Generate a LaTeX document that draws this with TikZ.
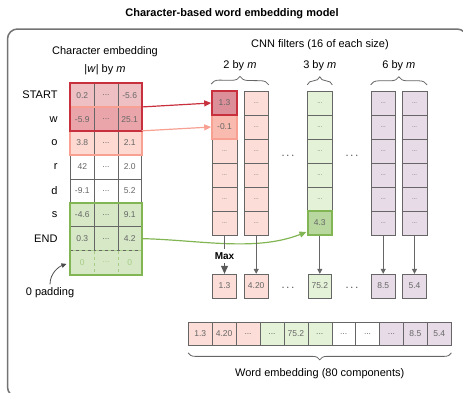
\documentclass[tikz,border=0pt]{standalone}
\usepackage{fontspec}
\setmainfont{Liberation Sans}
\usetikzlibrary{positioning,calc,arrows.meta,decorations.pathreplacing}

\definecolor{cellred}{RGB}{238,192,196}
\definecolor{cellredw}{RGB}{234,165,170}
\definecolor{cellsalmon}{RGB}{253,217,209}
\definecolor{cellpink}{RGB}{252,221,215}
\definecolor{cellgreen}{RGB}{214,232,198}
\definecolor{cellgreenlt}{RGB}{228,242,216}
\definecolor{cellpurple}{RGB}{230,219,230}
\definecolor{hired}{RGB}{220,143,153}
\definecolor{hisalmon}{RGB}{249,187,175}
\definecolor{higreen}{RGB}{185,216,160}
\definecolor{borderred}{RGB}{200,48,62}
\definecolor{bordersalmon}{RGB}{248,160,146}
\definecolor{bordergreen}{RGB}{130,182,84}

\begin{document}
\begin{tikzpicture}[
    x=1pt, y=-1pt,
    font=\fontsize{11}{13}\selectfont,
    cell/.style={draw=black!60, minimum width=23.7pt, minimum height=23.9pt, inner sep=0pt, font=\fontsize{8.5}{10}\selectfont, text=black!60},
    fcell/.style={cell, minimum width=24.6pt, minimum height=24pt, font=\fontsize{6}{7}\selectfont},
    padcell/.style={cell, draw=bordergreen!70, dashed, fill=cellgreen, text=bordergreen!70},
    rowlbl/.style={anchor=east},
    block/.style={line width=2pt},
    brace/.style={decorate, decoration={brace, amplitude=8pt}, draw=black!60, thick},
    outarrow/.style={-{Triangle[length=5pt,width=5pt]}, draw=black!60, line width=1pt},
    selarrow/.style={-{Triangle[length=7pt,width=6pt]}, line width=1.2pt}
]

% Frame and title
\useasboundingbox (0,0) rectangle (463,392);
\draw[black!55, line width=1.5pt, rounded corners=10pt] (7.5,29) rectangle (467,397);
\node[font=\bfseries\fontsize{11}{13}\selectfont] (title) at (232,14) {Character-based word embedding model};

% Character embedding table
\node (embtitle) at (105,52) {Character embedding};
\node (embsize) at (105,70) {|\textit{w}| by \textit{m}};
\foreach \r/\lbl/\va/\vc/\clr in {1/START/0.2/-5.6/cellred, 2/w/-5.9/25.1/cellredw, 3/o/3.8/2.1/cellsalmon,
    4/r/42/2.0/white, 5/d/-9.1/5.2/white, 6/s/-4.6/9.1/cellgreen, 7/END/0.3/4.2/cellgreen} {
  \node[rowlbl] (l\r) at (61, 71.3+23.9*\r) {\lbl};
  \node[cell, fill=\clr] (t\r1) at (82.3, 71.3+23.9*\r) {\va};
  \node[cell, fill=\clr] (t\r2) at (106, 71.3+23.9*\r) {...};
  \node[cell, fill=\clr] (t\r3) at (129.7, 71.3+23.9*\r) {\vc};
}
\node[padcell] (t81) at (82.3,262.5) {0};
\node[padcell] (t82) at (106,262.5) {...};
\node[padcell] (t83) at (129.7,262.5) {0};

% Highlighted windows
\draw[block, bordersalmon] (t21.north west) rectangle (t33.south east);
\draw[block, borderred] (t11.north west) rectangle (t23.south east);
\draw[block, bordergreen] (t61.north west) rectangle (t83.south east);

% 0 padding
\node (padlbl) at (50,293) {0 padding};
\draw[-{Triangle[length=5pt,width=4.5pt]}, black!70, thick, shorten >=4pt] (padlbl.north) to[out=90, in=200] (t81.west);

% CNN filters
\node (cnntitle) at (320,45) {CNN filters (16 of each size)};
\foreach \r in {3,...,6} {
  \node[fcell, fill=cellpink] (a\r) at (224.5, 79+24*\r) {...};
}
\node[fcell, fill=hisalmon, draw=bordersalmon, line width=2pt, font=\fontsize{8.5}{10}\selectfont] (a2) at (224.5,127) {-0.1};
\node[fcell, fill=hired, draw=borderred, line width=2pt, font=\fontsize{8.5}{10}\selectfont] (a1) at (224.5,103) {1.3};
\foreach \r in {1,...,6} {
  \node[fcell, fill=cellpink] (b\r) at (256.2, 79+24*\r) {...};
  \node[fcell, fill=cellpurple] (d\r) at (383.2, 79+24*\r) {...};
  \node[fcell, fill=cellpurple] (e\r) at (414.5, 79+24*\r) {...};
}
\foreach \r in {1,...,5} {
  \node[fcell, fill=cellgreenlt] (c\r) at (319.8, 79+24*\r) {...};
}
\node[fcell, fill=higreen, draw=bordergreen, line width=2pt, font=\fontsize{8.5}{10}\selectfont] (c6) at (319.8,223) {4.3};
\node (gap1) at (288,156) {$\cdots$};
\node (gap2) at (352,156) {$\cdots$};

% Filter sizes
\draw[brace] ([yshift=6pt]a1.north west) -- ([yshift=6pt]b1.north east) node[midway, above=10pt] {2 by \textit{m}};
\draw[brace] ([yshift=6pt]c1.north west) -- ([yshift=6pt]c1.north east) node[midway, above=10pt] {3 by \textit{m}};
\draw[brace] ([yshift=6pt]d1.north west) -- ([yshift=6pt]e1.north east) node[midway, above=10pt] {6 by \textit{m}};

% Window arrows
\draw[selarrow, borderred] (t23.north east) -- (a1.west);
\draw[selarrow, bordersalmon] (t33.north east) -- (a2.west);
\draw[selarrow, bordergreen] (t73.east) .. controls (200,240) and (255,252) .. (c6.214);

% Max pooling
\node[cell, fill=cellpink] (oa) at (224.5,286) {1.3};
\node[cell, fill=cellpink] (ob) at (256.2,286) {4.20};
\node[cell, fill=cellgreenlt] (oc) at (319.8,286) {75.2};
\node[cell, fill=cellpurple] (od) at (383.2,286) {8.5};
\node[cell, fill=cellpurple] (oe) at (414.5,286) {5.4};
\node (gap3) at (288,288) {$\cdots$};
\node (gap4) at (352,288) {$\cdots$};
\node[font=\bfseries\fontsize{10}{12}\selectfont] (max) at (224.5,256) {Max};
\draw[black!60, line width=1pt] (a6) -- (max);
\draw[-{Triangle[length=8pt,width=7pt]}, black!65, line width=1pt] (max) -- (oa);
\draw[outarrow] (b6) -- (ob);
\draw[outarrow] (c6) -- (oc);
\draw[outarrow] (d6) -- (od);
\draw[outarrow] (e6) -- (oe);

% Word embedding
\foreach \k/\v/\clr in {1/1.3/cellpink, 2/4.20/cellpink, 3/{...}/cellpink, 4/{...}/cellgreenlt, 5/75.2/cellgreenlt,
    6/{...}/cellgreenlt, 7/{...}/white, 8/{...}/white, 9/{...}/cellpurple, 10/8.5/cellpurple, 11/5.4/cellpurple} {
  \node[cell, minimum width=23.9pt, fill=\clr] (w\k) at (176.35+23.9*\k, 333.7) {\v};
}
\draw[brace, decoration={amplitude=7pt}] ([yshift=-7pt]w11.south east) -- ([yshift=-7pt]w1.south west)
  node[midway, below=12pt] {Word embedding (80 components)};

\end{tikzpicture}
\end{document}
